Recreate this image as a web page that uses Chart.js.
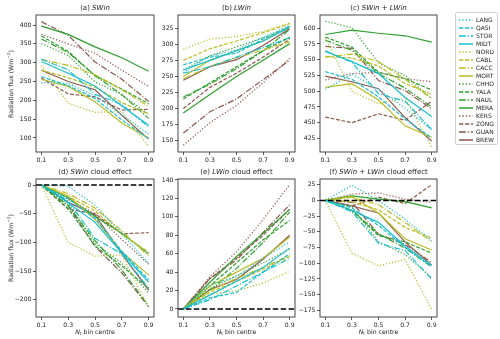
<!DOCTYPE html>
<html><head><meta charset="utf-8">
<script src="https://cdn.jsdelivr.net/npm/chart.js@4.4.0/dist/chart.umd.min.js"></script>
<style>
body{margin:0;background:#fff;width:500px;height:339px;overflow:hidden;position:relative;font-family:"DejaVu Sans",sans-serif;color:#1a1a1a}
canvas{position:absolute}
.t{position:absolute;font-size:7px;white-space:nowrap;transform:translate(-50%,-50%)}
.yl{position:absolute;font-size:6.2px;white-space:nowrap;transform:translate(-50%,-50%) rotate(-90deg)}
.xl{position:absolute;font-size:6.2px;white-space:nowrap;transform:translate(-50%,-50%)}
sup{font-size:4.3px;vertical-align:2.6px}
sub{font-size:4.3px;vertical-align:-1px}
#legend{position:absolute;left:455px;top:12px;width:43px;height:133px;border:0.8px solid #d0d0d0;border-radius:2px;background:#fff;box-sizing:border-box}
.le{position:absolute;left:3px;height:8px;font-size:6px;line-height:8px;white-space:nowrap}
.le svg{position:absolute;left:0;top:2px}
.le span{position:absolute;left:17px;top:0}
</style></head>
<body>
<div id="root"></div>
<div id="legend"></div>
<script>
// ---------- data ----------
const xCentres = [0.1, 0.3, 0.5, 0.7, 0.9];
const siteNames = ['LANG','QASI','STOR','MIDT','NORD','CABL','CACC','MORT','CHHO','YALA','NAUL','MERA','KERS','ZONG','GUAN','BREW'];

// (a) SWin, one row per site
const swin = [
  [247,245,212,162,110],
  [263,239,205,148,98],
  [309,281,216,189,129],
  [303,272,238,185,134],
  [292,192,168,170,78],
  [280,260,235,194,163],
  [308,293,268,228,184],
  [256,237,196,140,99],
  [351,319,249,215,163],
  [371,330,265,230,191],
  [363,327,266,215,152],
  [397,375,342,313,277],
  [375,350,325,280,237],
  [259,217,209,174,176],
  [409,373,302,256,197],
  [280,250,228,160,97]
];
// (b) LWin
const lwin = [
  [256,282,291,311,329],
  [268,280,286,308,328],
  [255,265,280,295,310],
  [260,275,290,305,326],
  [292,308,312,320,333],
  [275,293,305,318,332],
  [246,266,279,291,304],
  [250,275,290,305,328],
  [260,282,296,310,325],
  [215,240,265,290,311],
  [218,238,262,290,323],
  [193,222,250,275,301],
  [143,178,205,240,278],
  [200,233,255,280,308],
  [162,195,215,245,275],
  [244,265,276,298,324]
];
// (c) SWin + LWin
const swinLwin = [
  [503,527,503,473,439],
  [531,519,491,456,426],
  [564,546,496,484,439],
  [563,547,528,490,460],
  [584,500,480,490,411],
  [555,553,540,512,495],
  [554,559,547,519,488],
  [506,512,486,445,427],
  [611,601,545,525,488],
  [586,570,530,520,502],
  [581,565,528,505,475],
  [590,597,592,588,578],
  [518,528,530,520,515],
  [459,450,464,454,484],
  [571,568,517,501,472],
  [524,515,504,458,421]
];
// (d) SWin cloud effect
const swinCE = [
  [0,-2,-35,-85,-137],
  [0,-24,-58,-115,-165],
  [0,-28,-93,-120,-180],
  [0,-31,-65,-118,-169],
  [0,-100,-124,-122,-214],
  [0,-20,-45,-86,-117],
  [0,-15,-40,-80,-124],
  [0,-19,-60,-116,-157],
  [0,-32,-102,-136,-188],
  [0,-41,-106,-141,-180],
  [0,-36,-97,-148,-211],
  [0,-22,-55,-84,-120],
  [0,-25,-50,-95,-138],
  [0,-42,-50,-85,-83],
  [0,-36,-107,-153,-212],
  [0,-30,-52,-120,-183]
];
// (e) LWin cloud effect
const lwinCE = [
  [0,26,35,55,73],
  [0,12,18,40,60],
  [0,10,25,40,55],
  [0,15,30,45,66],
  [0,16,20,28,41],
  [0,18,30,43,57],
  [0,20,33,45,58],
  [0,25,40,55,78],
  [0,22,36,50,65],
  [0,25,50,75,96],
  [0,20,44,72,105],
  [0,29,57,82,108],
  [0,35,62,97,135],
  [0,33,55,80,108],
  [0,33,53,83,113],
  [0,21,32,54,80]
];
// (f) SWin + LWin cloud effect
const swinLwinCE = [
  [0,24,0,-30,-64],
  [0,-12,-40,-75,-105],
  [0,-18,-68,-80,-125],
  [0,-16,-35,-73,-103],
  [0,-84,-104,-94,-173],
  [0,-2,-15,-43,-60],
  [0,5,-7,-35,-66],
  [0,6,-20,-61,-79],
  [0,-10,-66,-86,-123],
  [0,-16,-56,-66,-84],
  [0,-16,-53,-76,-106],
  [0,7,2,-2,-12],
  [0,10,12,2,-3],
  [0,-9,5,-5,25],
  [0,-3,-54,-70,-99],
  [0,-9,-20,-66,-103]
];

const yTicksA = [100,150,200,250,300,350,400];
const yTicksB = [150,175,200,225,250,275,300,325];
const yTicksC = [425,450,475,500,525,550,575,600];
const yTicksD = [-200,-150,-100,-50,0];
const yTicksE = [0,20,40,60,80,100,120,140];
const yTicksF = [-175,-150,-125,-100,-75,-50,-25,0,25];

// ---------- styles ----------
const groupColours = ['#17becf','#bcbd22','#2ca02c','#8c564b'];
const dashStyles = [[1.2,1.9],[3.8,1.7],[6.2,1.7,1.2,1.7],[]];
const lineW = 1.2;

const panels = [
  {data: swin,       ticks: yTicksA, min: 62.7,  max: 426.6, left: 36,  top: 15,  w: 118, h: 137, title: '(a) <i>SWin</i>'},
  {data: lwin,       ticks: yTicksB, min: 132.5, max: 345.5, left: 178, top: 15,  w: 117, h: 137, title: '(b) <i>LWin</i>'},
  {data: swinLwin,   ticks: yTicksC, min: 403.5, max: 621,   left: 320, top: 15,  w: 117, h: 137, title: '(c) <i>SWin</i> + <i>LWin</i>'},
  {data: swinCE,     ticks: yTicksD, min: -230,  max: 10.5,  left: 36,  top: 179, w: 118, h: 138, title: '(d) <i>SWin</i> cloud effect', zero: true},
  {data: lwinCE,     ticks: yTicksE, min: -8.7,  max: 141,   left: 178, top: 179, w: 117, h: 138, title: '(e) <i>LWin</i> cloud effect', zero: true},
  {data: swinLwinCE, ticks: yTicksF, min: -185.5,max: 34,    left: 320, top: 179, w: 117, h: 138, title: '(f) <i>SWin</i> + <i>LWin</i> cloud effect', zero: true}
];

const Y_W = 34, X_H = 15, PAD_T = 4, PAD_R = 8;
const tickFont = {family: 'DejaVu Sans', size: 6.1};
const fmt = v => v < 0 ? '\u2212' + Math.abs(v) : String(v);

const framePlugin = {
  id: 'frame',
  afterDatasetsDraw(chart, args, opts) {
    const ctx = chart.ctx, a = chart.chartArea;
    ctx.save();
    if (opts.zero) {
      const y = chart.scales.y.getPixelForValue(0);
      ctx.strokeStyle = '#000'; ctx.lineWidth = 1.5; ctx.setLineDash([5.5, 2.4]);
      ctx.beginPath(); ctx.moveTo(a.left, y); ctx.lineTo(a.right, y); ctx.stroke();
    }
    ctx.setLineDash([]);
    ctx.strokeStyle = '#333'; ctx.lineWidth = 0.9;
    ctx.strokeRect(a.left, a.top, a.right - a.left, a.bottom - a.top);
    ctx.restore();
  }
};

const root = document.getElementById('root');
panels.forEach((p, pi) => {
  const cv = document.createElement('canvas');
  const cw = Y_W + p.w + PAD_R, ch = PAD_T + p.h + X_H;
  cv.width = cw; cv.height = ch;
  cv.style.left = (p.left - Y_W) + 'px';
  cv.style.top = (p.top - PAD_T) + 'px';
  cv.style.width = cw + 'px'; cv.style.height = ch + 'px';
  root.appendChild(cv);

  const datasets = siteNames.map((name, i) => ({
    label: name,
    data: xCentres.map((x, j) => ({x: x, y: p.data[i][j]})),
    borderColor: groupColours[Math.floor(i / 4)],
    borderDash: dashStyles[i % 4],
    borderWidth: lineW,
    pointRadius: 0,
    fill: false,
    tension: 0
  }));

  new Chart(cv, {
    type: 'line',
    data: {datasets},
    plugins: [framePlugin],
    options: {
      responsive: false, animation: false, devicePixelRatio: 1,
      layout: {padding: {top: PAD_T, right: PAD_R, left: 0, bottom: 0}},
      plugins: {legend: {display: false}, tooltip: {enabled: false}, frame: {zero: !!p.zero}},
      scales: {
        x: {
          type: 'linear', min: 0.06, max: 0.94,
          afterBuildTicks: s => { s.ticks = xCentres.map(v => ({value: v})); },
          afterFit: s => { s.height = X_H; s.paddingLeft = 0; s.paddingRight = 0; },
          ticks: {callback: v => v.toFixed(1), font: tickFont, color: '#1a1a1a', padding: 1.5, maxRotation: 0, autoSkip: false},
          grid: {display: true, drawOnChartArea: false, drawTicks: true, tickLength: 3, color: '#333', lineWidth: 0.8},
          border: {display: false}
        },
        y: {
          type: 'linear', min: p.min, max: p.max,
          afterBuildTicks: s => { s.ticks = p.ticks.map(v => ({value: v})); },
          afterFit: s => { s.width = Y_W; s.paddingTop = 0; s.paddingBottom = 0; },
          ticks: {callback: fmt, font: tickFont, color: '#1a1a1a', padding: 1.5, autoSkip: false},
          grid: {display: true, drawOnChartArea: false, drawTicks: true, tickLength: 3, color: '#333', lineWidth: 0.8},
          border: {display: false}
        }
      }
    }
  });

  const t = document.createElement('div');
  t.className = 't';
  t.innerHTML = p.title;
  t.style.left = (p.left + p.w / 2) + 'px';
  t.style.top = (p.top - 7) + 'px';
  root.appendChild(t);

  if (pi >= 3) {
    const xl = document.createElement('div');
    xl.className = 'xl';
    xl.innerHTML = '<i>N</i><sub>t</sub> bin centre';
    xl.style.left = (p.left + p.w / 2) + 'px';
    xl.style.top = '332px';
    root.appendChild(xl);
  }
  if (pi % 3 === 0) {
    const yl = document.createElement('div');
    yl.className = 'yl';
    yl.innerHTML = 'Radiation flux (Wm<sup>\u22122</sup>)';
    yl.style.left = '10px';
    yl.style.top = (p.top + p.h / 2) + 'px';
    root.appendChild(yl);
  }
});

// legend
const lg = document.getElementById('legend');
siteNames.forEach((name, i) => {
  const e = document.createElement('div');
  e.className = 'le';
  e.style.top = (3 + i * 8) + 'px';
  const col = groupColours[Math.floor(i / 4)];
  const dash = dashStyles[i % 4].map(v => v * 1.1).join(',');
  e.innerHTML = '<svg width="14" height="4"><line x1="0" y1="2" x2="14" y2="2" stroke="' + col + '" stroke-width="1.5"' +
    (dash ? ' stroke-dasharray="' + dash + '"' : '') + '/></svg><span>' + name + '</span>';
  lg.appendChild(e);
});
</script>
</body></html>
